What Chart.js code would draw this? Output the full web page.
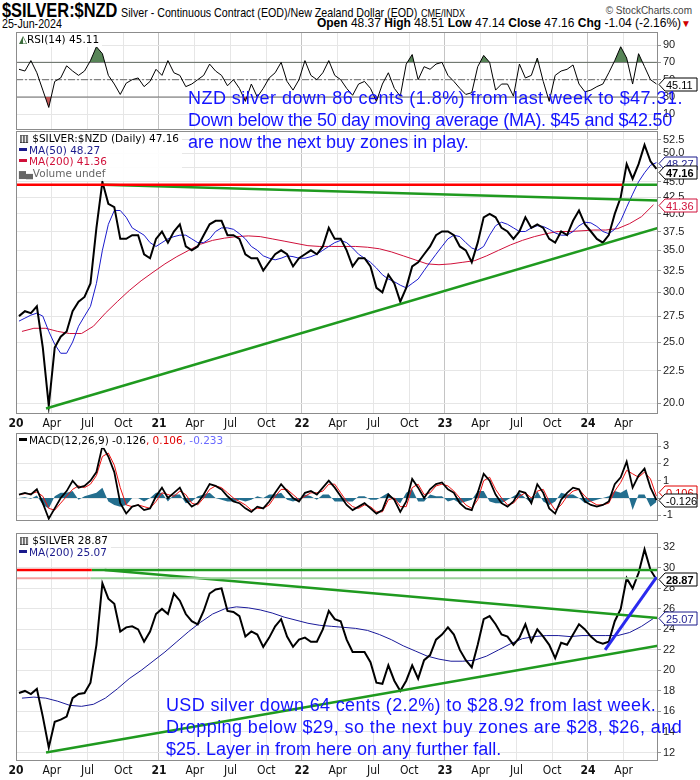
<!DOCTYPE html>
<html>
<head>
<meta charset="utf-8">
<script src="https://cdn.jsdelivr.net/npm/chart.js@4.4.1/dist/chart.umd.min.js"></script>
<style>
  body { margin: 0; background: #fff; width: 700px; height: 780px; position: relative; overflow: hidden; font-family: 'Liberation Sans', Arial, sans-serif; }
  canvas { position: absolute; left: 0; }
  .t { position: absolute; white-space: nowrap; }
  .narrow { transform: scaleX(0.82); transform-origin: 0 0; }
  .leg { position: absolute; left: 17px; z-index: 2; font-family: 'DejaVu Sans', Verdana, sans-serif; font-size: 10.5px; line-height: 11.5px; background: rgba(255,255,255,0.92); padding: 1px 3px 1px 2px; white-space: nowrap; }
  .dash { display: inline-block; width: 8px; height: 3px; margin: 0 2px 3px 0; vertical-align: middle; }
  .note { position: absolute; z-index: 3; font-size: 18px; line-height: 22px; color: #1414ff; white-space: nowrap; }
</style>
</head>
<body>

<div class="t narrow" style="left:2px;top:-1px;">
  <b style="font-size:20px;">$SILVER:$NZD</b>
  <span style="font-size:13px;">Silver - Continuous Contract (EOD)/New Zealand Dollar (EOD)</span>
  <span style="font-size:11px;">CME/INDX</span>
</div>
<div class="t" style="right:8px;top:5px;font-size:10px;color:#444;">© StockCharts.com</div>
<div class="t narrow" style="left:2px;top:16px;font-size:13px;">25-Jun-2024</div>
<div class="t" style="right:9px;top:16px;font-size:12px;">
  <b>Open</b> 48.37 <b>High</b> 48.51 <b>Low</b> 47.14 <b>Close</b> 47.16 <b>Chg</b> -1.04 (-2.16%)<span style="color:#d00000;font-size:10px;">▼</span>
</div>

<canvas id="rsi" width="700" height="98" style="top:32px;"></canvas>
<canvas id="nzd" width="700" height="302" style="top:131px;"></canvas>
<canvas id="macd" width="700" height="88" style="top:433px;"></canvas>
<canvas id="usd" width="700" height="247" style="top:533px;"></canvas>

<div class="leg" style="top:33px;"><span style="color:#3a6a3a;">◭</span>RSI(14) 45.11</div>
<div class="leg" style="top:132px;">
  <div><span style="font-weight:bold;">▥</span> $SILVER:$NZD (Daily) 47.16</div>
  <div style="color:#1a1a8c;"><span class="dash" style="background:#1a1a8c;"></span>MA(50) 48.27</div>
  <div style="color:#d0103a;"><span class="dash" style="background:#d0103a;"></span>MA(200) 41.36</div>
  <div style="color:#666;"><span style="font-size:9px;">▆▄</span>Volume undef</div>
</div>
<div class="leg" style="top:434px;"><span class="dash" style="background:#000;"></span>MACD(12,26,9) -0.126<span style="color:#e00000;">, 0.106</span><span style="color:#6a6aff;">, -0.233</span></div>
<div class="leg" style="top:534px;">
  <div><span style="font-weight:bold;">▥</span> $SILVER 28.87</div>
  <div style="color:#1a1a8c;"><span class="dash" style="background:#1a1a8c;"></span>MA(200) 25.07</div>
</div>

<div class="note" style="left:188px;top:87px;">
  <span style="letter-spacing:0.45px;">NZD silver down 86 cents (1.8%) from last week to $47.31.</span><br>
  <span style="letter-spacing:-0.27px;">Down below the 50 day moving average (MA). $45 and $42.50</span><br>
  <span>are now the next buy zones in play.</span>
</div>
<div class="note" style="left:166px;top:694px;">
  <span style="letter-spacing:0.35px;">USD silver down 64 cents (2.2%) to $28.92 from last week.</span><br>
  <span style="letter-spacing:0.42px;">Dropping below $29, so the next buy zones are $28, $26, and</span><br>
  <span>$25. Layer in from here on any further fall.</span>
</div>

<script>
// time axis: decimal years, Jan 2020 .. 25-Jun-2024
const X_MIN = 2020;
const X_MAX = 2024.49;
const quarterTicks = [2020, 2020.25, 2020.5, 2020.75, 2021, 2021.25, 2021.5, 2021.75,
  2022, 2022.25, 2022.5, 2022.75, 2023, 2023.25, 2023.5, 2023.75, 2024, 2024.25];
const quarterLabels = ['20', 'Apr', 'Jul', 'Oct', '21', 'Apr', 'Jul', 'Oct',
  '22', 'Apr', 'Jul', 'Oct', '23', 'Apr', 'Jul', 'Oct', '24', 'Apr'];

const rsiTicks = [10, 30, 50, 70, 90];
const nzdTicks = [20, 22.5, 25, 27.5, 30, 32.5, 35, 37.5, 40, 42.5, 45, 47.5, 50, 52.5];
const macdTicks = [-1, 0, 1, 2, 3];
const usdTicks = [12, 14, 16, 18, 20, 22, 24, 26, 28, 30, 32];

// half-monthly samples (first/second half of each month)
const nzdClose = [
  27.5, 28.0, 27.8, 28.5, 24.5, 19.8, 24.5, 25.5, 26.0, 28.0, 29.0, 29.5, 31.0, 38.0, 45.0, 41.5, 41.0, 36.5, 36.5, 37.0, 37.0, 34.5, 34.0, 36.5,
  37.5, 36.0, 37.5, 38.5, 35.5, 35.0, 35.5, 37.0, 38.5, 39.0, 39.0, 37.0, 37.0, 36.5, 34.5, 34.0, 34.0, 32.5, 33.5, 34.5, 35.0, 34.5, 33.0, 34.0,
  34.5, 35.0, 34.5, 35.5, 38.0, 36.5, 36.5, 35.0, 33.0, 34.0, 34.0, 33.0, 30.5, 30.0, 32.0, 31.0, 29.0, 30.5, 33.0, 33.5, 34.5, 35.5, 37.0, 37.5,
  37.5, 37.0, 35.5, 35.0, 33.5, 36.0, 39.5, 40.0, 39.5, 38.0, 37.5, 36.5, 37.5, 39.5, 38.0, 38.5, 38.0, 36.5, 36.0, 37.5, 37.0, 39.0, 40.5, 38.5,
  37.5, 36.5, 36.0, 37.0, 40.0, 42.5, 48.0, 45.5, 48.0, 51.5, 48.5, 47.16
];
const nzdMa50 = [
  27.0, 27.3, 27.6, 27.8, 27.5, 26.0, 24.8, 24.0, 24.0, 25.0, 26.5, 27.5, 28.5, 31.0, 35.0, 38.5, 40.5, 40.5, 39.5, 38.0, 37.5, 37.0, 36.0, 35.5,
  36.0, 36.5, 36.8, 37.0, 37.0, 36.5, 36.0, 36.0, 36.5, 37.5, 38.0, 38.0, 37.8, 37.2, 36.5, 35.5, 35.0, 34.3, 34.0, 33.8, 34.0, 34.3, 34.2, 34.0,
  34.0, 34.2, 34.5, 35.0, 35.5, 36.0, 36.3, 36.0, 35.3, 34.5, 34.0, 33.5, 32.8, 32.0, 31.5, 31.2, 30.8, 30.5, 31.0, 31.5, 32.5, 33.5, 34.5, 35.5,
  36.5, 37.0, 36.8, 36.0, 35.3, 35.0, 35.5, 37.0, 38.3, 38.8, 38.5, 38.0, 37.5, 37.5, 38.0, 38.3, 38.2, 37.8, 37.3, 37.0, 37.0, 37.5, 38.3, 38.8,
  38.7, 38.2, 37.5, 37.2, 37.8, 39.0, 41.0, 43.0, 45.0, 46.5, 47.8, 48.27
];
// monthly samples
const nzdMa200 = [
  26.0, 26.3, 26.3, 26.0, 25.8, 25.8, 26.5, 27.8, 29.0, 30.2, 31.3, 32.3,
  33.3, 34.2, 35.0, 35.8, 36.3, 36.6, 36.8, 36.9, 36.8, 36.5, 36.2, 35.9,
  35.6, 35.5, 35.5, 35.5, 35.5, 35.4, 35.2, 34.8, 34.3, 33.8, 33.3, 33.2,
  33.3, 33.5, 33.7, 34.3, 35.0, 35.7, 36.3, 36.8, 37.2, 37.5, 37.5, 37.6,
  37.7, 37.7, 37.9, 38.6, 39.6, 41.36
];
const rsi = [
  62, 60, 72, 58, 38, 18, 48, 52, 66, 60, 55, 60, 72, 88, 80, 55, 45, 33, 46, 50, 52, 42, 48, 62,
  55, 72, 58, 55, 42, 45, 50, 55, 68, 60, 55, 43, 50, 40, 25, 45, 30, 40, 52, 58, 70, 48, 38, 50,
  72, 55, 50, 58, 72, 55, 50, 40, 32, 45, 48, 40, 25, 45, 58, 40, 31, 68, 79, 50, 65, 62, 68, 70,
  55, 48, 40, 33, 35, 65, 78, 70, 38, 45, 45, 31, 68, 52, 55, 75, 48, 25, 55, 60, 62, 67, 45, 36,
  38, 42, 45, 58, 72, 88, 75, 45, 80, 65, 50, 45.11
];
const macdLine = [
  0.2, 0.3, 0.2, 0.5, -0.3, -1.2, -0.6, 0.0, 0.4, 1.0, 0.6, 0.7, 1.0, 1.5, 3.0, 2.4, 1.5, -0.3, -0.9, -0.5, -0.4, -0.7, -0.6, 0.1,
  0.6, 0.0, 0.3, 0.6, -0.1, -0.5, -0.3, 0.2, 0.8, 0.7, 0.5, 0.1, -0.2, -0.3, -0.6, -0.8, -0.5, -0.6, -0.2, 0.3, 0.8, 0.4, 0.0, -0.2,
  0.3, 0.4, 0.2, 0.6, 1.0, 0.6, 0.1, -0.4, -0.7, -0.5, -0.3, -0.6, -0.9, -0.7, 0.2, -0.1, -0.8, -0.2, 1.1, 0.6, 0.0, 0.5, 0.8, 0.9,
  0.5, 0.3, -0.3, -0.6, -0.7, 0.3, 1.4, 1.0, 0.2, -0.3, -0.5, -0.2, 0.4, 0.3, -0.3, 0.8, 0.3, -0.6, -0.9, -0.1, 0.3, 0.6, 0.5, -0.2,
  -0.4, -0.5, -0.4, -0.2, 0.8, 1.2, 2.1, 0.6, 1.3, 1.7, 0.6, -0.126
];
const macdSignal = [
  0.2, 0.25, 0.25, 0.35, 0.1, -0.6, -0.7, -0.3, 0.1, 0.5, 0.7, 0.6, 0.8, 1.3, 2.4, 2.6, 1.9, 0.6, -0.4, -0.5, -0.4, -0.5, -0.6, -0.2,
  0.3, 0.2, 0.1, 0.4, 0.2, -0.3, -0.4, 0.0, 0.5, 0.7, 0.6, 0.3, 0.0, -0.2, -0.4, -0.7, -0.6, -0.6, -0.4, 0.1, 0.5, 0.5, 0.2, -0.1,
  0.1, 0.3, 0.3, 0.4, 0.8, 0.8, 0.3, -0.2, -0.5, -0.6, -0.4, -0.5, -0.8, -0.8, -0.1, 0.0, -0.5, -0.5, 0.6, 0.8, 0.2, 0.3, 0.7, 0.8,
  0.7, 0.4, 0.0, -0.4, -0.6, -0.1, 1.0, 1.2, 0.5, 0.0, -0.4, -0.3, 0.1, 0.3, 0.0, 0.4, 0.5, -0.2, -0.7, -0.4, 0.1, 0.4, 0.5, 0.1,
  -0.2, -0.4, -0.4, -0.3, 0.4, 0.9, 1.6, 1.4, 1.2, 1.5, 1.1, 0.106
];
const macdHist = [
  0.0, 0.05, -0.05, 0.15, -0.4, -0.6, 0.1, 0.3, 0.3, 0.4, -0.1, 0.1, 0.2, 0.3, 0.6, -0.2, -0.4, -0.5, -0.4, 0.0, 0.0, -0.2, 0.0, 0.3,
  0.3, -0.2, 0.2, 0.2, -0.3, -0.2, 0.1, 0.2, 0.3, 0.0, -0.1, -0.2, -0.2, -0.1, -0.2, -0.1, 0.1, 0.0, 0.2, 0.2, 0.3, -0.1, -0.2, -0.1,
  0.2, 0.1, -0.1, 0.2, 0.2, -0.2, -0.2, -0.2, -0.2, 0.1, 0.1, -0.1, -0.1, 0.1, 0.3, -0.1, -0.3, 0.3, 0.5, -0.2, -0.2, 0.2, 0.1, 0.1,
  -0.2, -0.1, -0.3, -0.2, -0.1, 0.4, 0.4, -0.2, -0.3, -0.3, -0.1, 0.1, 0.3, 0.0, -0.3, 0.4, -0.2, -0.4, -0.2, 0.3, 0.2, 0.2, 0.0, -0.3,
  -0.2, -0.1, 0.0, 0.1, 0.4, 0.3, 0.5, -0.7, 0.2, 0.2, -0.5, -0.233
];
const usdClose = [
  17.8, 18.0, 17.7, 18.2, 15.5, 12.5, 15.0, 15.2, 15.5, 17.3, 17.7, 17.8, 18.8, 22.5, 28.5, 27.0, 26.5, 23.8, 24.2, 24.3, 24.0, 22.8, 23.8, 25.5,
  26.0, 25.5, 27.5, 26.8, 25.5, 24.8, 24.5, 25.8, 27.5, 27.9, 28.0, 25.8, 25.7, 25.3, 23.3, 23.8, 23.5, 22.3, 23.2, 24.3, 25.0, 23.3, 22.3, 23.0,
  23.2, 22.8, 22.8, 24.0, 25.8, 25.0, 24.8, 23.0, 21.8, 21.8, 21.8, 20.8, 18.8, 18.7, 20.5, 19.0, 18.0, 19.0, 20.5, 19.2, 21.0, 21.5, 23.0, 23.5,
  24.2, 23.5, 22.0, 21.0, 20.3, 22.5, 25.0, 25.3, 24.5, 23.5, 23.3, 22.5, 23.2, 24.5, 22.8, 24.0, 23.3, 22.5, 21.2, 22.7, 22.5, 23.5, 24.5, 24.0,
  23.3, 22.8, 22.6, 22.8, 24.8, 26.0, 29.0, 28.0, 29.5, 31.8, 29.8, 28.87
];
const usdMa200 = [
  17.3, 17.4, 17.3, 17.0, 16.6, 16.5, 16.7, 17.3, 18.2, 19.2, 20.0, 20.9,
  21.8, 22.8, 23.8, 24.7, 25.5, 26.0, 26.2, 26.1, 25.9, 25.6, 25.2, 24.9,
  24.6, 24.4, 24.3, 24.2, 24.1, 23.9, 23.5, 23.0, 22.4, 21.9, 21.4, 21.1,
  20.9, 20.9, 21.0, 21.4, 22.0, 22.6, 23.1, 23.3, 23.4, 23.4, 23.3, 23.4,
  23.4, 23.4, 23.4, 23.7, 24.3, 25.07
];

// drawn support / resistance lines: [date, price] end points
const nzdResistRed = [[2020, 44.5], [2024.24, 44.5]];
const nzdResistGreen = [[2024.24, 44.5], [X_MAX, 44.5]];
const nzdUpperTrend = [[2020.61, 44.5], [X_MAX, 42.0]];
const nzdLowerTrend = [[2020.21, 19.6], [X_MAX, 38.0]];
const usdTopRed = [[2020, 29.8], [2020.53, 29.8]];
const usdTopGreen = [[2020.53, 29.8], [X_MAX, 29.8]];
const usdMidPink = [[2020, 29.0], [2020.52, 29.0]];
const usdMidGreen = [[2020.52, 29.0], [X_MAX, 29.0]];
const usdUpperTrend = [[2020.62, 29.8], [X_MAX, 25.1]];
const usdLowerTrend = [[2020.21, 12.0], [X_MAX, 22.4]];
const usdBlueTrend = [[2024.12, 22.0], [2024.48, 29.1]];
const rsiBand = [70, 30];

const halfMonthly = vals => vals.map((v, i) => ({ x: X_MIN + (i + 0.5) / 24, y: v }));
const monthly = vals => vals.map((v, i) => ({ x: X_MIN + (i + 0.5) / 12, y: v }));
const seg = pts => pts.map(p => ({ x: p[0], y: p[1] }));
const last = arr => arr[arr.length - 1];

function line(data, color, width, extra) {
  return Object.assign({ data, borderColor: color, borderWidth: width, pointRadius: 0, fill: false, tension: 0 }, extra || {});
}

function xAxis(showLabels) {
  return {
    type: 'linear', min: X_MIN, max: X_MAX,
    afterBuildTicks: s => { s.ticks = quarterTicks.map(v => ({ value: v })); },
    afterFit: s => { s.height = showLabels ? 19 : 0; s.paddingLeft = 0; s.paddingRight = 0; },
    grid: { color: c => (c.tick && c.tick.value % 1 === 0) ? '#c4c4c4' : '#e6e6e6', drawTicks: false },
    border: { display: false },
    ticks: {
      display: showLabels, autoSkip: false, maxRotation: 0, padding: 3, color: '#111',
      font: c => ({ family: "'Liberation Sans Narrow', 'DejaVu Sans Condensed', sans-serif", size: 12,
        weight: (c.tick && c.tick.value % 1 === 0) ? 'bold' : 'normal' }),
      callback: (v, i) => quarterLabels[i]
    }
  };
}

function yAxis(type, min, max, tickVals, fmt) {
  return {
    type, position: 'right', min, max,
    afterBuildTicks: s => { s.ticks = tickVals.map(v => ({ value: v })); },
    afterFit: s => { s.width = 42; s.paddingTop = 0; s.paddingBottom = 0; },
    grid: { color: '#e6e6e6', tickColor: '#999', tickLength: 3 },
    border: { display: false },
    ticks: { color: '#222', padding: 2, font: { family: "'Liberation Sans', Arial, sans-serif", size: 11 }, callback: v => fmt(v) }
  };
}

const framePlugin = {
  id: 'frame',
  afterDraw(chart) {
    const a = chart.chartArea, ctx = chart.ctx;
    ctx.save();
    ctx.strokeStyle = '#8c8c8c';
    ctx.lineWidth = 1;
    ctx.strokeRect(a.left + 0.5, a.top + 0.5, a.right - a.left - 1, a.bottom - a.top - 1);
    ctx.restore();
  }
};

// value boxes on the right axis
function tagPlugin(tags) {
  return {
    id: 'tags',
    afterDraw(chart) {
      const ctx = chart.ctx, y = chart.scales.y, x0 = chart.chartArea.right + 1;
      tags.forEach(t => {
        const py = Math.round(y.getPixelForValue(t.value) + (t.shift || 0)) + 0.5;
        ctx.save();
        ctx.beginPath();
        ctx.moveTo(x0, py);
        ctx.lineTo(x0 + 6, py - 6.5);
        ctx.lineTo(x0 + 38, py - 6.5);
        ctx.lineTo(x0 + 38, py + 6.5);
        ctx.lineTo(x0 + 6, py + 6.5);
        ctx.closePath();
        ctx.fillStyle = '#fff';
        ctx.fill();
        ctx.strokeStyle = t.color;
        ctx.lineWidth = 1;
        ctx.stroke();
        ctx.fillStyle = t.color;
        ctx.font = (t.bold ? 'bold ' : '') + "11px 'Liberation Sans', Arial, sans-serif";
        ctx.textBaseline = 'middle';
        ctx.fillText(t.text, x0 + 7, py + 1);
        ctx.restore();
      });
    }
  };
}

function baseOptions(yCfg, showX) {
  return {
    responsive: false, animation: false, events: [],
    layout: { padding: { left: 16, right: 0, top: 0, bottom: 0 } },
    plugins: { legend: { display: false }, tooltip: { enabled: false } },
    scales: { x: xAxis(showX), y: yCfg }
  };
}

const GREEN = '#1f9a1f';
const fmt1 = v => v.toFixed(1);
const fmt0 = v => String(v);

// RSI panel
new Chart(document.getElementById('rsi'), {
  type: 'line',
  data: {
    datasets: [
      line(halfMonthly(rsi), '#000', 1, { fill: { target: { value: 70 }, above: 'rgba(70,120,70,0.9)', below: 'rgba(0,0,0,0)' } }),
      line(halfMonthly(rsi), 'rgba(0,0,0,0)', 0, { fill: { target: { value: 30 }, above: 'rgba(0,0,0,0)', below: 'rgba(190,70,70,0.9)' } }),
      line(seg([[X_MIN, rsiBand[0]], [X_MAX, rsiBand[0]]]), '#6a6a6a', 1),
      line(seg([[X_MIN, 50], [X_MAX, 50]]), '#6a6a6a', 1, { borderDash: [7, 2, 2, 2] }),
      line(seg([[X_MIN, rsiBand[1]], [X_MAX, rsiBand[1]]]), '#6a6a6a', 1)
    ]
  },
  options: baseOptions(yAxis('linear', -8, 105, rsiTicks, fmt0), false),
  plugins: [framePlugin, tagPlugin([{ value: last(rsi), text: last(rsi).toFixed(2), color: '#000' }])]
});

// NZD price panel (log scale)
new Chart(document.getElementById('nzd'), {
  type: 'line',
  data: {
    datasets: [
      line(seg(nzdResistRed), '#ff0000', 2.5),
      line(seg(nzdResistGreen), GREEN, 2.5),
      line(seg(nzdUpperTrend), GREEN, 2.5),
      line(seg(nzdLowerTrend), GREEN, 2.5),
      line(halfMonthly(nzdClose), '#000', 2),
      line(halfMonthly(nzdMa50), '#1a1acc', 1),
      line(monthly(nzdMa200), '#d0103a', 1)
    ]
  },
  options: baseOptions(yAxis('logarithmic', 19.21, 54.2, nzdTicks, fmt1), true),
  plugins: [framePlugin, tagPlugin([
    { value: last(nzdMa200), text: last(nzdMa200).toFixed(2), color: '#d0103a' },
    { value: last(nzdMa50), text: last(nzdMa50).toFixed(2), color: '#1a1a8c' },
    { value: last(nzdClose), text: last(nzdClose).toFixed(2), color: '#000', bold: true, shift: 3 }
  ])]
});

// MACD panel
new Chart(document.getElementById('macd'), {
  type: 'line',
  data: {
    datasets: [
      line(halfMonthly(macdLine), '#000', 1.8),
      line(halfMonthly(macdSignal), '#ee1111', 1),
      line(halfMonthly(macdHist), 'rgba(0,0,0,0)', 0, { fill: { target: 'origin', above: '#236e8e', below: '#236e8e' } })
    ]
  },
  options: baseOptions(yAxis('linear', -1.33, 3.76, macdTicks, fmt0), false),
  plugins: [framePlugin, tagPlugin([
    { value: last(macdSignal), text: last(macdSignal).toFixed(3), color: '#e00000', shift: -4 },
    { value: last(macdLine), text: last(macdLine).toFixed(3), color: '#000' }
  ])]
});

// USD price panel
new Chart(document.getElementById('usd'), {
  type: 'line',
  data: {
    datasets: [
      line(seg(usdBlueTrend), '#2a2aee', 3),
      line(seg(usdTopRed), '#ff0000', 2.5),
      line(seg(usdTopGreen), GREEN, 2.5),
      line(seg(usdMidPink), '#f4a0a0', 2),
      line(seg(usdMidGreen), '#9ad09a', 2),
      line(seg(usdUpperTrend), GREEN, 2.5),
      line(seg(usdLowerTrend), GREEN, 2.5),
      line(halfMonthly(usdClose), '#000', 2),
      line(monthly(usdMa200), '#1a1a9a', 1)
    ]
  },
  options: baseOptions(yAxis('linear', 11.17, 33.4, usdTicks, fmt0), true),
  plugins: [framePlugin, tagPlugin([
    { value: last(usdMa200), text: last(usdMa200).toFixed(2), color: '#1a1a8c' },
    { value: last(usdClose), text: last(usdClose).toFixed(2), color: '#000', bold: true }
  ])]
});
</script>
</body>
</html>
